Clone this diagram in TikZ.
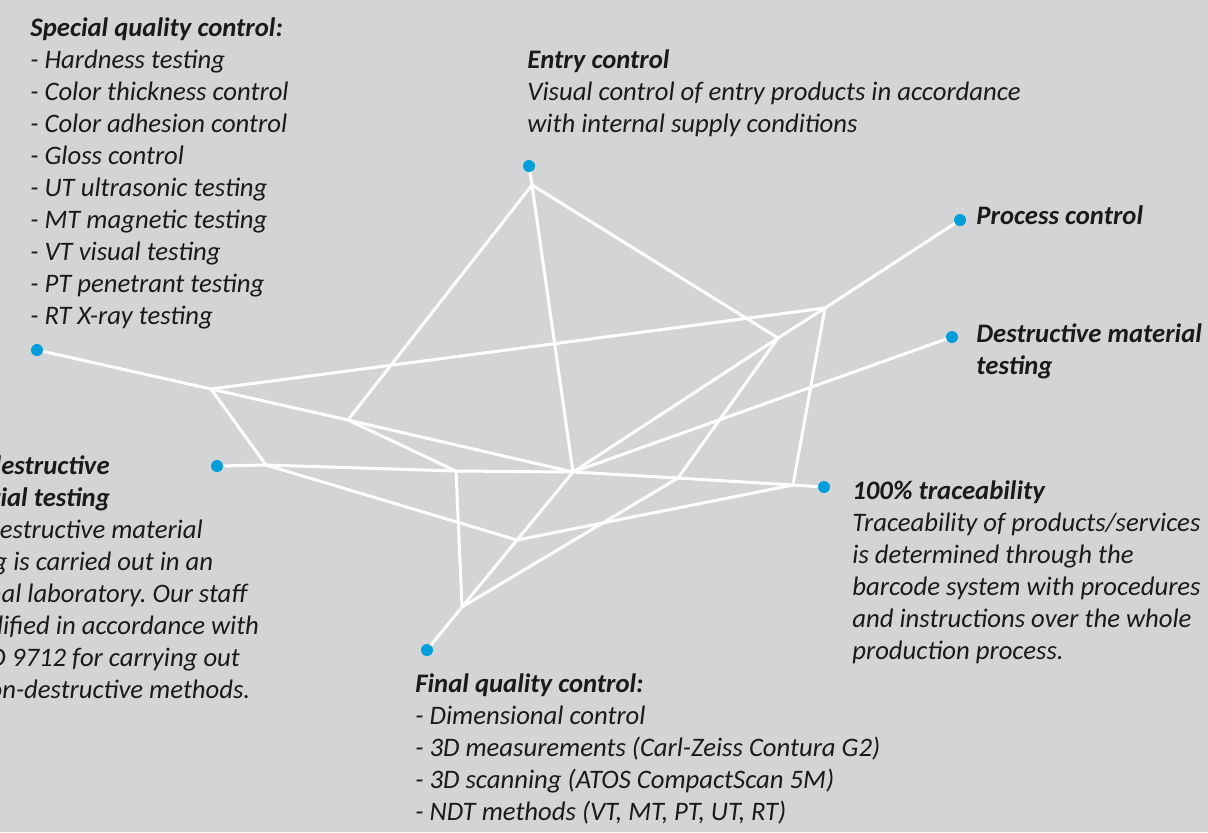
\documentclass[tikz,border=0pt]{standalone}
\usepackage{fontspec}
\setmainfont{Carlito}
\usepackage{tikz}
\usetikzlibrary{calc}
\frenchspacing
\definecolor{bg-gray}{RGB}{211,212,214}
\definecolor{dot-blue}{RGB}{0,157,219}
\definecolor{text-black}{RGB}{26,26,26}
\tikzset{
every picture/.style={x=0.5pt, y=-0.5pt},
%%%%%%%%%%  Node styles
vertex/.style={circle,minimum size=0pt, inner sep=0pt, outer sep=0},
dotnode/.style={fill=dot-blue,circle,minimum size=6pt, inner sep=0pt, outer
sep=0},
%%%% text blocks, placed at the baseline of their LAST line
textblock/.style={align=left, inner sep=0, anchor=base west, text=text-black,
                  font=\itshape\fontsize{13.35}{16}\selectfont},
%%%% the white web
web/.style={draw=white, line width=1.5pt, line join=round}
}

\begin{document}
\begin{tikzpicture}
\clip (0,0) rectangle (1208,832);
\fill[bg-gray] (0,0) rectangle (1208,832);
%% junctions of the web
\coordinate (a) at (532,185);
\coordinate (b) at (211,389);
\coordinate (c) at (266,465);
\coordinate (e) at (348,420);
\coordinate (f) at (825,308);
\coordinate (g) at (778,338);
\coordinate (h) at (573,472);
\coordinate (i) at (793,485);
\coordinate (j) at (456,471);
\coordinate (k) at (517,540);
\coordinate (l) at (462,607);
\coordinate (m) at (678,478);
%% end dots
\node[dotnode] (entry) at (529,166) {};
\node[dotnode] (process) at (960,220) {};
\node[dotnode] (destr) at (952,337) {};
\node[dotnode] (trace) at (824,487) {};
\node[dotnode] (final) at (427,650) {};
\node[dotnode] (ndt) at (217,466) {};
\node[dotnode] (special) at (37,350) {};
%% web edges
\draw[web] (special) -- (b) -- (f);
\draw[web] (b) -- (c);
\draw[web] (b) -- (e) -- (h);
\draw[web] (e) -- (a);
\draw[web] (e) -- (j);
\draw[web] (ndt) -- (c) -- (j) -- (h) -- (m) -- (i) -- (trace);
\draw[web] (c) -- (k) -- (i);
\draw[web] (j) -- (l);
\draw[web] (l) -- (final);
\draw[web] (l) -- (k) -- (h);
\draw[web] (l) -- (m) -- (g);
\draw[web] (entry) -- (a) -- (h);
\draw[web] (a) -- (g);
\draw[web] (h) -- (g) -- (f) -- (process);
\draw[web] (h) -- (destr);
\draw[web] (f) -- (i);
%% labels
\node[textblock] (special_txt) at (30,324) {\textbf{Special quality control:}\\- Hardness testing\\- Color thickness control\\- Color adhesion control\\- Gloss control\\- UT ultrasonic testing\\- MT magnetic testing\\- VT visual testing\\- PT penetrant testing\\- RT X-ray testing};
\node[textblock] (entry_txt) at (527,132) {\textbf{Entry control}\\Visual control of entry products in accordance\\with internal supply conditions};
\node[textblock] (process_txt) at (976,224) {\textbf{Process control}};
\node[textblock] (destr_txt) at (976,374) {\textbf{Destructive material}\\\textbf{testing}};
\node[textblock] (trace_txt) at (852,659) {\textbf{100\% traceability}\\Traceability of products/services\\is determined through the\\barcode system with procedures\\and instructions over the whole\\production process.};
\node[textblock] (final_txt) at (415,820) {\textbf{Final quality control:}\\- Dimensional control\\- 3D measurements (Carl-Zeiss Contura G2)\\- 3D scanning (ATOS CompactScan 5M)\\- NDT methods (VT, MT, PT, UT, RT)};
\node[textblock] (ndt_txt) at (-67,698) {\textbf{Non-destructive}\\\textbf{material testing}\\Non-destructive material\\testing is carried out in an\\external laboratory. Our staff\\is qualified in accordance with\\EN ISO 9712 for carrying out\\the non-destructive methods.};
\end{tikzpicture}
\end{document}
